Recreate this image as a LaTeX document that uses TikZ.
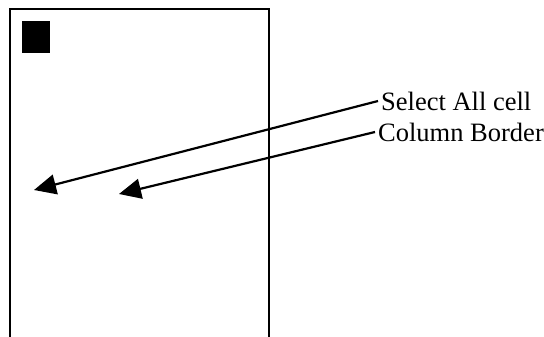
\documentclass[tikz,border=0pt]{standalone}
\usepackage{fontspec}
\setmainfont{Liberation Serif}
\usetikzlibrary{arrows.meta}
\begin{document}
\begin{tikzpicture}[x=1pt,y=-1pt,
  frame/.style={line width=2pt},
  lbl/.style={anchor=west,inner sep=3pt,font=\fontsize{26.5}{30}\selectfont},
  pointer/.style={line width=2.2pt,-{Triangle[length=22pt,width=20pt]}}]
\useasboundingbox (0,0) rectangle (544,337);
\draw[frame] (10,340) -- (10,9) -- (269,9) -- (269,340);
\fill (22,21) rectangle (50,53);
\node[lbl] (sel) at (378,101) {Select All cell};
\node[lbl] (col) at (375,132) {Column Border};
\coordinate (t1) at (34,190);
\coordinate (t2) at (119,194);
\draw[pointer] (sel.west) -- (t1);
\draw[pointer] (col.west) -- (t2);
\end{tikzpicture}
\end{document}
